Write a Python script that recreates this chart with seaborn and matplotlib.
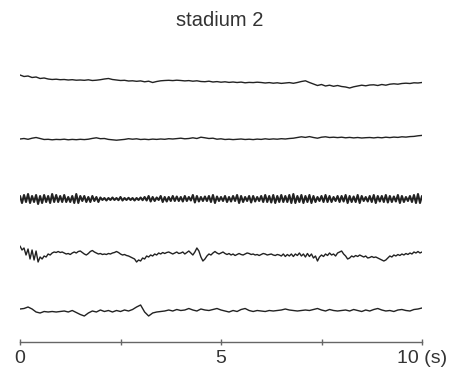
import numpy as np
import pandas as pd
import matplotlib
matplotlib.use("Agg")
import matplotlib.pyplot as plt
import seaborn as sns

title = "stadium 2"
tick_positions = [0, 2.5, 5, 7.5, 10]
tick_labels = ["0", "", "5", "", "10 (s)"]
channel_names = ["ch1", "ch2", "ch3", "ch4", "ch5"]
channel_offsets = [262, 203, 143, 89, 32]

ch1 = [5, 3.5, 4, 2.5, 3, 1.5, 2, 1, 0.5, 0.8, 0.3, 0.5, 0, 0.3, -0.2, 0, -0.3, 0.2, -0.5, -0.2,
       0.3, 1.0, 1.5, 0.5, 0, -0.5, -0.3, -1, -0.8, -1.3, -0.9, -1.8, -1.2, -2.5, -1.5, -0.8, -0.5, -0.3, -0.6, -0.2,
       -0.5, -0.9, -0.6, -1.2, -0.8, -1.5, -1.7, -1.2, -2, -1.6, -2.2, -1.8, -2.4, -2, -2.5, -2.1, -2.8, -2.4, -2.6, -2.2,
       -2.5, -3, -2.6, -3.2, -2.8, -3.4, -3, -2.6, -3.3, -2.5, -1.5, -0.8, -2.5, -4, -5.5, -4.5, -6, -5.2, -6.3, -5.5,
       -6.5, -7, -8, -6.8, -6, -5.2, -5.8, -5, -4.8, -5.5, -4.5, -5.2, -4.2, -3.8, -4.2, -3.5, -3.2, -3.5, -2.8, -3, -2.5]

ch2 = [0, 0.5, -0.3, 0.8, 1.5, 0.5, -0.5, -0.3, -0.8, -0.4, -0.6, -0.2, -0.8, -0.4, -0.7, -0.3, -0.6, -0.2, 0.6, 1.2,
       0.3, 0.5, -0.4, -0.8, -1.2, -0.8, -0.4, 0.3, -0.2, 0.2, -0.5, -0.2, -0.6, -0.1, -0.4, 0, -0.3, 0.3, 0, 0.4,
       0.8, 0.2, 0.5, 1.2, 0.5, 1.8, 1.2, 0.5, 0.8, -0.2, 0.2, -0.5, -0.2, -0.6, -0.3, 0, -0.5, -0.2, -0.6, -0.1,
       -0.4, 0.2, -0.3, 0.1, -0.2, 0.3, 0, 0.5, 0.8, 1.5, 2.2, 1.6, 2.4, 1.5, 0.8, 1.8, 2.2, 1.5, 1.8, 1.4,
       1.8, 1.2, 1.6, 1.1, 1.5, 1.0, 1.3, 1.5, 1.1, 1.6, 1.2, 1.8, 1.4, 1.9, 1.6, 2.2, 1.9, 2.4, 2.6, 3.2, 3.6]

ch3 = [3, -4, 4, -3, 5, -4, 3, -3, 4, -5, 3, -4, 4, -3, 3, -4, 5, -3, 4, -3,
       3, -3, 4, -3, 2, -3, 3, -4, 5, -4, 3, -2, 3, -3, 2, -3, 3, -2, 2, -3,
       1.5, -1, 1, -1.5, 1, -1, 1.5, -1, 1, -1.2, 2, -1.5, 1, -1, 1.2, -1, 1, -1.5, 1, -1,
       1.5, -1.2, 2, -1.5, 3, -2.5, 2, -2, 1.5, -1, 3, -3, 2, -2.5, 2, -2, 3, -2, 2.5, -2,
       2, -2.5, 3, -2, 2, -1.5, 4, -3.5, 3, -2.5, 2, -2, 2.5, -2, 3, -3, 4, -4, 2.5, -2,
       2, -2, 3, -3, 2, -2.5, 3, -2, 4, -4, 3, -3, 2, -2, 3, -3.5, 3, -2.5, 2, -2,
       3, -3, 4, -3, 3, -3.5, 4, -4, 3, -3, 4, -3, 3, -3, 4, -4, 5, -4, 3, -3,
       4, -4, 3, -3, 4, -4, 3, -3, 2, -2, 3, -3, 4, -3, 3, -3, 2, -2, 3, -3,
       3, -2.5, 4, -4, 3, -3, 2.5, -3, 4, -4, 3, -2, 2, -2.5, 3, -3, 4, -4, 3, -2.5,
       3, -3, 4, -3.5, 3, -3, 2.5, -2.5, 4, -4, 3, -3, 2, -2, 3, -3, 4, -4, 5, -4,
       3]

ch4 = [7, 3, 5, -2, 4, -6, 3, -7, 2, -9, -4, -6, -3, -4, -1, -2, 0, 1, 0.5, 1.5,
       0.5, 1, 0, -1, -0.5, -1.5, 0, 1, 0, 1.5, 2, 0.5, -1, -2, -0.5, 1.5, 2.5, 1, 0, -1,
       -0.5, -1.5, -1, -1.5, -0.5, -1, 0, 0.5, 1.5, 0.5, -1, -2, -1.5, -2.5, -3, -4, -5, -6, -9, -7,
       -8, -5, -6, -3, -4, -2, -3, -1, -2, 0, -1, 0.5, -0.5, 0.5, 1, 0, -1, 0, 1, -0.5,
       0, 1, -1, 0.5, 2, 0, -2, 1, 5, 2, -4, -8, -6, -3, -1, -2, 0, 1.5, 0, -1,
       0, 1, -0.5, -1.5, -0.5, -2, -1, -2.5, -1.5, -0.5, -1.5, -2, -1, 0, -0.5, -1.5, -1, -2, -1.5, -2.5,
       -1.5, -0.5, -1, -2, -1.5, -1, -2, -2.5, -1.5, -2, -3, -1, -3.5, -1.5, -3, -1, -3.5, -1, -2.5, 0,
       -3, -1, -4, -0.5, -3.5, -1, -5, -3, -8, -4, -2, -3.5, -1, -2.5, 0, -2, -1, -3, 0, 1,
       2, -1, -3, -6, -5, -3, -4, -2.5, -3.5, -2, -3, -4, -3, -5, -4.5, -3.5, -4.5, -4, -5, -6,
       -7, -8, -7, -5, -3, -4, -2, -3, -1.5, -2.5, -1, -2, -0.5, -1.5, 0, -1, 1, 0, 1.5, 0,
       1]

ch5 = [1, 1.5, 3, 1, -2, -3, -1.5, -2, -1.5, -2, -1.5, -1, -2, -0.5, -2.5, -4.5, -6, -3, -1, -2,
       0, -1.5, -0.5, -2, -0.5, -1.5, 0, -1, 0.5, 3, 5, -2, -6, -3, -2, -1.5, -1, 0, -1, 0.5,
       -0.5, 0, 1.5, 0, -1, 1, 0, -0.5, 0.5, 1.5, 0, -1, -2, -0.5, -1.5, 0.5, 1.5, -0.5, -1.5, -0.5,
       -1, -1.5, -0.5, -1, -0.5, 0, 1, 0, -0.5, -1, -0.5, 0, -0.5, 0.5, 1.5, 0, -1, 0.5, -0.5, -1,
       -0.5, 0, -1, 0.5, -0.5, -1.5, 0, -1, 0.5, 1.5, 0, -1, -0.5, -1.5, 0, 0.5, -0.5, -1, 0.5, 1, 2]

channels = [ch1, ch2, ch3, ch4, ch5]
line_widths = [1.0, 1.0, 1.5, 1.0, 1.0]

sns.set_style("white")
plt.rcParams["font.family"] = ["Liberation Sans", "DejaVu Sans"]

fig = plt.figure(figsize=(4.51, 3.81), dpi=100)
ax = fig.add_axes([20 / 451, (381 - 342) / 381, 402 / 451, 282 / 381])

for name, vals, off, lw in zip(channel_names, channels, channel_offsets, line_widths):
    v = np.asarray(vals, dtype=float)
    d = pd.DataFrame({"time": np.linspace(0, 10, len(v)), "value": v + off})
    sns.lineplot(data=d, x="time", y="value", color="#222222", linewidth=lw,
                 estimator=None, sort=False, ax=ax)

ax.set_xlim(0, 10)
ax.set_ylim(0, 282)
ax.set_xlabel("")
ax.set_ylabel("")
ax.set_yticks([])
ax.set_xticks(tick_positions)
ax.set_xticklabels(tick_labels)
for s in ["left", "right", "top"]:
    ax.spines[s].set_visible(False)
ax.spines["bottom"].set_color("#666666")
ax.spines["bottom"].set_linewidth(1.0)
ax.tick_params(axis="x", direction="inout", length=5, width=1, color="#666666",
               labelsize=14, labelcolor="#333333", pad=3, bottom=True)
ax.patch.set_alpha(0)

fig.text(220 / 451, 1 - 20 / 381, title, ha="center", va="center",
         fontsize=14.5, color="#333333")

fig.savefig("out.png", dpi=100)
